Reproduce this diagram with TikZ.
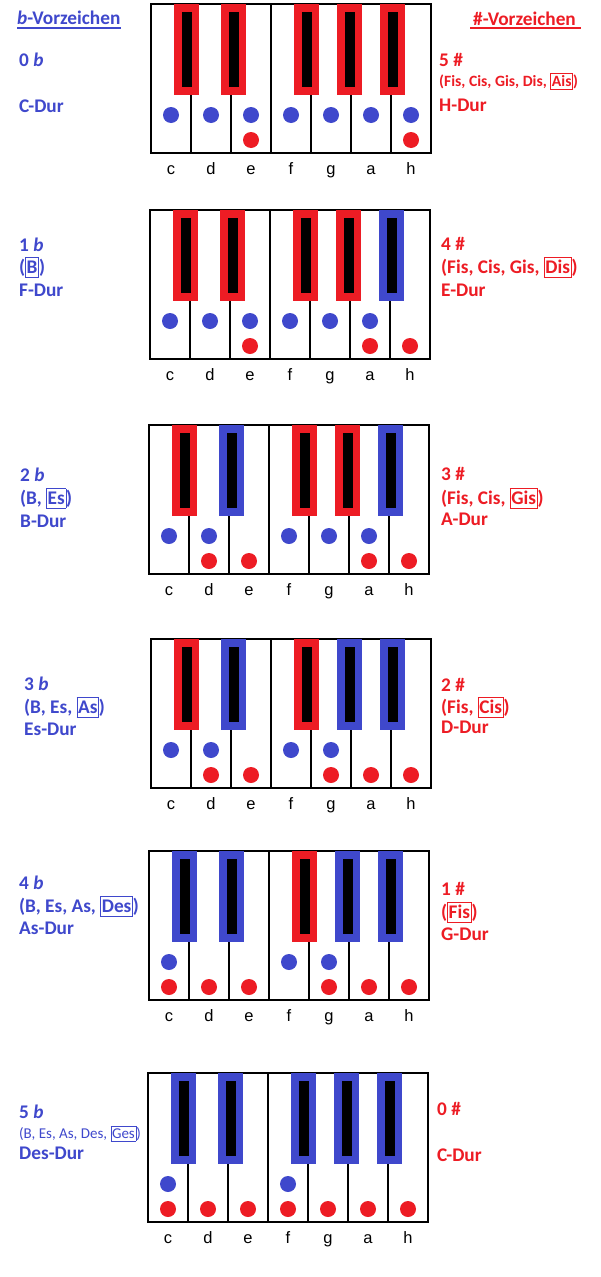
\documentclass[tikz,border=0pt]{standalone}
\usepackage{fontspec}
\setmainfont{Carlito}
\newfontfamily\tonfont{Liberation Sans}
\usetikzlibrary{calc}
\definecolor{bblau}{HTML}{3F48CC}
\definecolor{kreuzrot}{HTML}{ED1C24}

% boxed word inside a label
\newcommand{\kasten}[1]{{\setlength{\fboxsep}{0.8pt}\setlength{\fboxrule}{0.7pt}\fbox{\vphantom{(}#1}}}

% one keyboard: #1 name, #2 left, #3 top, #4 black keys (x/colour), #5 blue dots, #6 red dots
\newcommand{\klavier}[6]{%
  \begin{scope}[shift={(#2,#3)}]
    \draw[weiss] (0,0) rectangle (280,149);
    \foreach \i in {1,...,6} \draw[weiss] (40*\i,0) -- (40*\i,149);
    \foreach \xs/\farbe in {#4} {
      \fill[\farbe] (\xs,0) rectangle ++(25,91);
      \fill[black] (\xs+8,8) rectangle ++(9.5,75);
    }
    \foreach \k in {#5} \fill[bblau] (40*\k-20,111) circle (8);
    \foreach \k in {#6} \fill[kreuzrot] (40*\k-20,136) circle (8);
    \foreach \n [count=\k] in {c,d,e,f,g,a,h}
      \node[tonname] (#1-\n) at (40*\k-20,170) {\n};
  \end{scope}}

\begin{document}
\begin{tikzpicture}[
        x=1pt, y=-1pt,
        weiss/.style = {draw=black, fill=white, line width=1.8pt},
        tonname/.style = {anchor=base, inner sep=0pt, font=\tonfont\fontsize{16.5}{18}\selectfont},
        schrift/.style = {anchor=base west, inner sep=0pt, font=\fontsize{19.3}{22}\selectfont\bfseries},
        bvz/.style = {schrift, text=bblau},
        kvz/.style = {schrift, text=kreuzrot},
        klein/.style = {font=\fontsize{15.7}{18}\selectfont\bfseries},
        kleinr/.style = {font=\fontsize{15}{18}\selectfont}
    ]
        \fill[white] (0,0) rectangle (600,1277);
        \useasboundingbox (0,0) rectangle (600,1277);

        % Headings
        \node (kopfb) [bvz] at (17,24) {\textit{b}-Vorzeichen};
        \node (kopfk) [kvz] at (473,25) {\#-Vorzeichen};
        \draw [bblau, line width=2pt] ($(kopfb.base west)+(0,4)$) -- ($(kopfb.base east)+(0,4)$);
        \draw [kreuzrot, line width=2pt] ($(kopfk.base west)+(-3,3)$) -- ($(kopfk.base east)+(5,3)$);

        % Row 1: 0 b / 5 #
        \klavier{r1}{151}{4}{23/kreuzrot,70/kreuzrot,143/kreuzrot,186/kreuzrot,229/kreuzrot}{1,...,7}{3,7}
        \node (b0) [bvz] at (19,66) {0 \textit{b}};
        \node (b0dur) [bvz] at (19,112) {C-Dur};
        \node (k5) [kvz] at (439,66) {5 \#};
        \node (k5liste) [kvz, klein] at (439,86) {(Fis, Cis, Gis, Dis, \kasten{Ais})};
        \node (k5dur) [kvz] at (439,111) {H-Dur};

        % Row 2: 1 b / 4 #
        \klavier{r2}{150}{210}{23/kreuzrot,70/kreuzrot,143/kreuzrot,186/kreuzrot,229/bblau}{1,2,3,4,5,6}{3,6,7}
        \node (b1) [bvz] at (19,251) {1 \textit{b}};
        \node (b1liste) [bvz] at (19,273) {(\kasten{B})};
        \node (b1dur) [bvz] at (19,296) {F-Dur};
        \node (k4) [kvz] at (441,250) {4 \#};
        \node (k4liste) [kvz] at (441,273) {(Fis, Cis, Gis, \kasten{Dis})};
        \node (k4dur) [kvz] at (441,296) {E-Dur};

        % Row 3: 2 b / 3 #
        \klavier{r3}{149}{425}{23/kreuzrot,70/bblau,143/kreuzrot,186/kreuzrot,229/bblau}{1,2,4,5,6}{2,3,6,7}
        \node (b2) [bvz] at (20,481) {2 \textit{b}};
        \node (b2liste) [bvz] at (20,504) {(B, \kasten{Es})};
        \node (b2dur) [bvz] at (20,527) {B-Dur};
        \node (k3) [kvz] at (441,480) {3 \#};
        \node (k3liste) [kvz] at (441,504) {(Fis, Cis, \kasten{Gis})};
        \node (k3dur) [kvz] at (441,525) {A-Dur};

        % Row 4: 3 b / 2 #
        \klavier{r4}{151}{639}{23/kreuzrot,70/bblau,143/kreuzrot,186/bblau,229/bblau}{1,2,4,5}{2,3,5,6,7}
        \node (b3) [bvz] at (24,690) {3 \textit{b}};
        \node (b3liste) [bvz] at (24,713) {(B, Es, \kasten{As})};
        \node (b3dur) [bvz] at (24,735) {Es-Dur};
        \node (k2) [kvz] at (441,691) {2 \#};
        \node (k2liste) [kvz] at (441,713) {(Fis, \kasten{Cis})};
        \node (k2dur) [kvz] at (441,733) {D-Dur};

        % Row 5: 4 b / 1 #
        \klavier{r5}{149}{851}{23/bblau,70/bblau,143/kreuzrot,186/bblau,229/bblau}{1,4,5}{1,2,3,5,6,7}
        \node (b4) [bvz] at (19,889) {4 \textit{b}};
        \node (b4liste) [bvz] at (19,912) {(B, Es, As, \kasten{Des})};
        \node (b4dur) [bvz] at (19,934) {As-Dur};
        \node (k1) [kvz] at (441,895) {1 \#};
        \node (k1liste) [kvz] at (441,918) {(\kasten{Fis})};
        \node (k1dur) [kvz] at (441,940) {G-Dur};

        % Row 6: 5 b / 0 #
        \klavier{r6}{148}{1073}{23/bblau,70/bblau,143/bblau,186/bblau,229/bblau}{1,4}{1,...,7}
        \node (b5) [bvz] at (19,1118) {5 \textit{b}};
        \node (b5liste) [bvz, kleinr] at (19,1138) {(B, Es, As, Des, \kasten{Ges})};
        \node (b5dur) [bvz] at (19,1159) {Des-Dur};
        \node (k0) [kvz] at (437,1115) {0 \#};
        \node (k0dur) [kvz] at (437,1161) {C-Dur};

    \end{tikzpicture}
\end{document}
